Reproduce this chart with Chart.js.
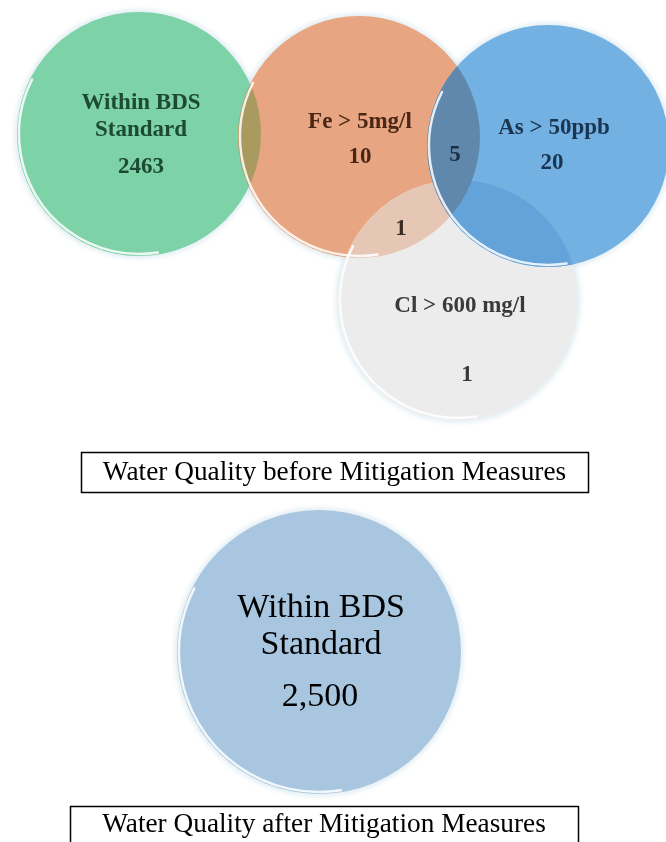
<!DOCTYPE html>
<html>
<head>
<meta charset="utf-8">
<script src="https://cdn.jsdelivr.net/npm/chart.js@4.4.1/dist/chart.umd.min.js"></script>
<style>
  html, body { margin: 0; padding: 0; background: #ffffff; }
  #wrap { position: relative; width: 666px; height: 842px; overflow: hidden; }
  #venn { position: absolute; left: 0; top: 0; }
</style>
</head>
<body>
<div id="wrap"><canvas id="venn" width="666" height="842"></canvas></div>
<script>
// ---- Data -----------------------------------------------------------
const beforeSets   = ['Within BDS Standard', 'Fe > 5mg/l', 'Cl > 600 mg/l', 'As > 50ppb'];
const beforeCounts = [2463, 10, 1, 20];
const overlapPairs  = ['Fe & As', 'Fe & Cl'];
const overlapCounts = [5, 1];
const afterSets    = ['Within BDS Standard'];
const afterCounts  = [2500];
const panelTitles  = ['Water Quality before Mitigation Measures', 'Water Quality after Mitigation Measures'];

// ---- Layout (page units on the hidden linear scales) ----------------
const beforeCircles = [
  { x: 139, y: 134, r: 122 },   // Within BDS
  { x: 359, y: 137, r: 121 },   // Fe
  { x: 458, y: 300, r: 120 },   // Cl
  { x: 548, y: 146, r: 121 }    // As
];
const afterCircles = [ { x: 319, y: 652, r: 142 } ];

const beforeFill = ['#7dd2a8', '#e8a582', '#ececec', '#72b1e1'];
const afterFill  = ['#a8c6e0'];

// lens colours: [circle a, circle b, colour]
const lensStyle = [
  [0, 1, '#a99a60'],
  [1, 2, '#e6c6b4'],
  [3, 2, '#63a3d9'],
  [1, 3, '#5f88ac']
];

const SERIF = '"Liberation Serif", "Times New Roman", serif';

const setLabelStyle = [
  { lines: ['Within BDS', 'Standard'], at: [141, 103], gap: 27, numAt: [141, 167], color: '#1c4a33' },
  { lines: ['Fe > 5mg/l'], at: [360, 122], gap: 0, numAt: [360, 157], color: '#4a2616' },
  { lines: ['Cl > 600 mg/l'], at: [460, 306], gap: 0, numAt: [467, 375], color: '#3a3a3a' },
  { lines: ['As > 50ppb'], at: [554, 128], gap: 0, numAt: [552, 163], color: '#1b3450' }
];
const overlapAt = [[455, 155], [401, 229]];
const overlapColor = ['#1e2e3e', '#3a2a22'];

const titleBoxes = [
  { x0: 81, x1: 588, y0: 452, y1: 492 },
  { x0: 70, x1: 578, y0: 806, y1: 860 }
];

function circlePath(ctx, el, grow) {
  ctx.beginPath();
  ctx.arc(el.x, el.y, el.options.radius + (grow || 0), 0, Math.PI * 2);
}

const vennDecor = {
  id: 'vennDecor',
  beforeDatasetsDraw(chart) {
    // faint halo behind every disc
    const ctx = chart.ctx;
    [0, 1].forEach(d => chart.getDatasetMeta(d).data.forEach(el => {
      ctx.save();
      ctx.filter = 'blur(2px)';
      circlePath(ctx, el, 3);
      ctx.fillStyle = 'rgba(200,222,232,0.45)';
      ctx.fill();
      ctx.restore();
    }));
  },
  afterDatasetsDraw(chart) {
    const ctx = chart.ctx;
    const xs = chart.scales.x, ys = chart.scales.y;
    const before = chart.getDatasetMeta(0).data;
    const after = chart.getDatasetMeta(1).data;

    // overlap regions
    lensStyle.forEach(([a, b, col]) => {
      ctx.save();
      circlePath(ctx, before[a]);
      ctx.clip();
      circlePath(ctx, before[b]);
      ctx.fillStyle = col;
      ctx.fill();
      ctx.restore();
    });

    // glossy rim on the lower-left edge of each disc
    [...before, ...after].forEach(el => {
      const r = el.options.radius;
      ctx.save();
      ctx.lineCap = 'round';
      ctx.strokeStyle = 'rgba(255,255,255,0.85)';
      ctx.lineWidth = 2.5;
      ctx.beginPath();
      ctx.arc(el.x, el.y, r - 2, Math.PI * 0.45, Math.PI * 1.15);
      ctx.stroke();
      ctx.restore();
    });

    ctx.save();
    ctx.textAlign = 'center';
    ctx.textBaseline = 'middle';

    // set names and counts
    ctx.font = 'bold 23px ' + SERIF;
    setLabelStyle.forEach((s, i) => {
      ctx.fillStyle = s.color;
      s.lines.forEach((line, k) => {
        ctx.fillText(line, xs.getPixelForValue(s.at[0]), ys.getPixelForValue(s.at[1] + k * s.gap));
      });
      ctx.fillText(String(beforeCounts[i]), xs.getPixelForValue(s.numAt[0]), ys.getPixelForValue(s.numAt[1]));
    });
    overlapCounts.forEach((v, i) => {
      ctx.fillStyle = overlapColor[i];
      ctx.fillText(String(v), xs.getPixelForValue(overlapAt[i][0]), ys.getPixelForValue(overlapAt[i][1]));
    });

    // after panel
    ctx.fillStyle = '#000000';
    ctx.font = '34px ' + SERIF;
    ctx.fillText('Within BDS', xs.getPixelForValue(321), ys.getPixelForValue(608));
    ctx.fillText('Standard', xs.getPixelForValue(321), ys.getPixelForValue(645));
    ctx.fillText(afterCounts[0].toLocaleString('en-US'), xs.getPixelForValue(320), ys.getPixelForValue(697));

    // caption boxes
    titleBoxes.forEach((b, i) => {
      const x0 = xs.getPixelForValue(b.x0), x1 = xs.getPixelForValue(b.x1);
      const y0 = ys.getPixelForValue(b.y0), y1 = ys.getPixelForValue(b.y1);
      ctx.fillStyle = '#ffffff';
      ctx.fillRect(x0, y0, x1 - x0, y1 - y0);
      ctx.strokeStyle = '#000000';
      ctx.lineWidth = 1.5;
      ctx.strokeRect(x0 + 0.5, y0 + 0.5, x1 - x0, y1 - y0);
      ctx.fillStyle = '#000000';
      const cy = i === 0 ? (y0 + y1) / 2 + 1 : y0 + 19;
      ctx.save();
      ctx.translate((x0 + x1) / 2, cy);
      ctx.scale(0.975, 1);
      ctx.font = '28px ' + SERIF;
      ctx.fillText(panelTitles[i], 0, 0);
      ctx.restore();
    });
    ctx.restore();
  }
};

new Chart(document.getElementById('venn'), {
  type: 'bubble',
  data: {
    datasets: [
      {
        label: 'Before',
        data: beforeCircles.map((c, i) => ({ x: c.x, y: c.y, r: c.r, name: beforeSets[i] })),
        backgroundColor: beforeFill,
        borderWidth: 0,
        clip: false,
        order: 1
      },
      {
        label: 'After',
        data: afterCircles.map((c, i) => ({ x: c.x, y: c.y, r: c.r, name: afterSets[i] })),
        backgroundColor: afterFill,
        borderWidth: 0,
        clip: false,
        order: 2
      }
    ]
  },
  options: {
    responsive: false,
    animation: false,
    devicePixelRatio: 1,
    events: [],
    layout: { padding: 0, autoPadding: false },
    plugins: { legend: { display: false }, tooltip: { enabled: false } },
    scales: {
      x: { type: 'linear', min: 0, max: 666, display: false },
      y: { type: 'linear', min: 0, max: 842, reverse: true, display: false }
    }
  },
  plugins: [vennDecor]
});
</script>
</body>
</html>
